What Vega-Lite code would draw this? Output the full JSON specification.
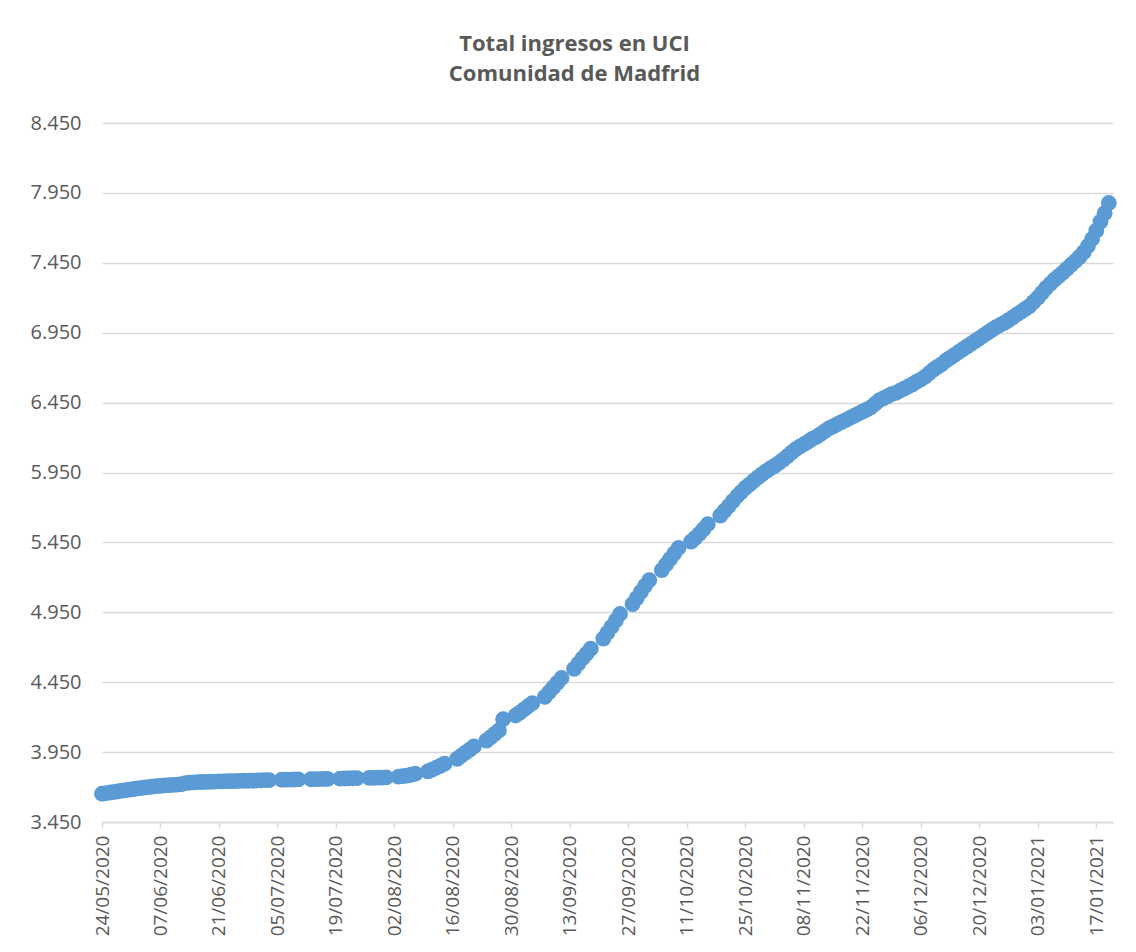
{
  "$schema": "https://vega.github.io/schema/vega-lite/v6.json",
  "autosize": "none",
  "width": 1011,
  "height": 699,
  "padding": {"left": 102, "top": 123, "right": 23, "bottom": 130},
  "background": "white",
  "title": {
    "text": ["Total ingresos en UCI", "Comunidad de Madfrid"],
    "font": "Open Sans",
    "fontSize": 22,
    "fontWeight": "bold",
    "color": "#595959",
    "lineHeight": 30,
    "offset": 27,
    "anchor": "middle",
    "dx": -33
  },
  "data": {
    "format": {"parse": {"fecha": "date:'%Y-%m-%d'"}},
    "values": [
      {"fecha": "2020-05-24", "uci": 3652},
      {"fecha": "2020-05-25", "uci": 3657},
      {"fecha": "2020-05-26", "uci": 3661},
      {"fecha": "2020-05-27", "uci": 3666},
      {"fecha": "2020-05-28", "uci": 3670},
      {"fecha": "2020-05-29", "uci": 3675},
      {"fecha": "2020-05-30", "uci": 3679},
      {"fecha": "2020-05-31", "uci": 3684},
      {"fecha": "2020-06-01", "uci": 3688},
      {"fecha": "2020-06-02", "uci": 3692},
      {"fecha": "2020-06-03", "uci": 3696},
      {"fecha": "2020-06-04", "uci": 3700},
      {"fecha": "2020-06-05", "uci": 3703},
      {"fecha": "2020-06-06", "uci": 3706},
      {"fecha": "2020-06-07", "uci": 3709},
      {"fecha": "2020-06-08", "uci": 3712},
      {"fecha": "2020-06-09", "uci": 3714},
      {"fecha": "2020-06-10", "uci": 3716},
      {"fecha": "2020-06-11", "uci": 3718},
      {"fecha": "2020-06-12", "uci": 3720},
      {"fecha": "2020-06-13", "uci": 3728},
      {"fecha": "2020-06-14", "uci": 3731},
      {"fecha": "2020-06-15", "uci": 3733},
      {"fecha": "2020-06-16", "uci": 3735},
      {"fecha": "2020-06-17", "uci": 3736},
      {"fecha": "2020-06-18", "uci": 3737},
      {"fecha": "2020-06-19", "uci": 3738},
      {"fecha": "2020-06-20", "uci": 3739},
      {"fecha": "2020-06-21", "uci": 3740},
      {"fecha": "2020-06-22", "uci": 3741},
      {"fecha": "2020-06-23", "uci": 3742},
      {"fecha": "2020-06-24", "uci": 3743},
      {"fecha": "2020-06-25", "uci": 3743},
      {"fecha": "2020-06-26", "uci": 3744},
      {"fecha": "2020-06-27", "uci": 3745},
      {"fecha": "2020-06-28", "uci": 3745},
      {"fecha": "2020-06-29", "uci": 3746},
      {"fecha": "2020-06-30", "uci": 3747},
      {"fecha": "2020-07-01", "uci": 3748},
      {"fecha": "2020-07-02", "uci": 3749},
      {"fecha": "2020-07-03", "uci": 3750},
      {"fecha": "2020-07-06", "uci": 3752},
      {"fecha": "2020-07-07", "uci": 3753},
      {"fecha": "2020-07-08", "uci": 3753},
      {"fecha": "2020-07-09", "uci": 3754},
      {"fecha": "2020-07-10", "uci": 3755},
      {"fecha": "2020-07-13", "uci": 3756},
      {"fecha": "2020-07-14", "uci": 3757},
      {"fecha": "2020-07-15", "uci": 3757},
      {"fecha": "2020-07-16", "uci": 3758},
      {"fecha": "2020-07-17", "uci": 3759},
      {"fecha": "2020-07-20", "uci": 3760},
      {"fecha": "2020-07-21", "uci": 3761},
      {"fecha": "2020-07-22", "uci": 3762},
      {"fecha": "2020-07-23", "uci": 3763},
      {"fecha": "2020-07-24", "uci": 3764},
      {"fecha": "2020-07-27", "uci": 3765},
      {"fecha": "2020-07-28", "uci": 3766},
      {"fecha": "2020-07-29", "uci": 3767},
      {"fecha": "2020-07-30", "uci": 3768},
      {"fecha": "2020-07-31", "uci": 3769},
      {"fecha": "2020-08-03", "uci": 3775},
      {"fecha": "2020-08-04", "uci": 3778},
      {"fecha": "2020-08-05", "uci": 3782},
      {"fecha": "2020-08-06", "uci": 3788},
      {"fecha": "2020-08-07", "uci": 3795},
      {"fecha": "2020-08-10", "uci": 3812},
      {"fecha": "2020-08-11", "uci": 3824},
      {"fecha": "2020-08-12", "uci": 3838},
      {"fecha": "2020-08-13", "uci": 3852},
      {"fecha": "2020-08-14", "uci": 3867},
      {"fecha": "2020-08-17", "uci": 3902},
      {"fecha": "2020-08-18", "uci": 3924},
      {"fecha": "2020-08-19", "uci": 3946},
      {"fecha": "2020-08-20", "uci": 3968},
      {"fecha": "2020-08-21", "uci": 3990},
      {"fecha": "2020-08-24", "uci": 4032},
      {"fecha": "2020-08-25", "uci": 4055},
      {"fecha": "2020-08-26", "uci": 4080},
      {"fecha": "2020-08-27", "uci": 4105},
      {"fecha": "2020-08-28", "uci": 4185},
      {"fecha": "2020-08-31", "uci": 4212},
      {"fecha": "2020-09-01", "uci": 4232},
      {"fecha": "2020-09-02", "uci": 4255},
      {"fecha": "2020-09-03", "uci": 4278},
      {"fecha": "2020-09-04", "uci": 4300},
      {"fecha": "2020-09-07", "uci": 4345},
      {"fecha": "2020-09-08", "uci": 4378},
      {"fecha": "2020-09-09", "uci": 4412},
      {"fecha": "2020-09-10", "uci": 4446},
      {"fecha": "2020-09-11", "uci": 4480},
      {"fecha": "2020-09-14", "uci": 4545},
      {"fecha": "2020-09-15", "uci": 4582},
      {"fecha": "2020-09-16", "uci": 4620},
      {"fecha": "2020-09-17", "uci": 4655},
      {"fecha": "2020-09-18", "uci": 4690},
      {"fecha": "2020-09-21", "uci": 4762},
      {"fecha": "2020-09-22", "uci": 4805},
      {"fecha": "2020-09-23", "uci": 4848},
      {"fecha": "2020-09-24", "uci": 4892},
      {"fecha": "2020-09-25", "uci": 4938},
      {"fecha": "2020-09-28", "uci": 5008},
      {"fecha": "2020-09-29", "uci": 5052},
      {"fecha": "2020-09-30", "uci": 5096},
      {"fecha": "2020-10-01", "uci": 5140},
      {"fecha": "2020-10-02", "uci": 5180},
      {"fecha": "2020-10-05", "uci": 5252},
      {"fecha": "2020-10-06", "uci": 5292},
      {"fecha": "2020-10-07", "uci": 5332},
      {"fecha": "2020-10-08", "uci": 5372},
      {"fecha": "2020-10-09", "uci": 5410},
      {"fecha": "2020-10-12", "uci": 5455},
      {"fecha": "2020-10-13", "uci": 5483},
      {"fecha": "2020-10-14", "uci": 5512},
      {"fecha": "2020-10-15", "uci": 5545},
      {"fecha": "2020-10-16", "uci": 5580},
      {"fecha": "2020-10-19", "uci": 5642},
      {"fecha": "2020-10-20", "uci": 5676},
      {"fecha": "2020-10-21", "uci": 5710},
      {"fecha": "2020-10-22", "uci": 5745},
      {"fecha": "2020-10-23", "uci": 5780},
      {"fecha": "2020-10-24", "uci": 5810},
      {"fecha": "2020-10-25", "uci": 5840},
      {"fecha": "2020-10-26", "uci": 5865},
      {"fecha": "2020-10-27", "uci": 5890},
      {"fecha": "2020-10-28", "uci": 5915},
      {"fecha": "2020-10-29", "uci": 5938},
      {"fecha": "2020-10-30", "uci": 5960},
      {"fecha": "2020-10-31", "uci": 5980},
      {"fecha": "2020-11-01", "uci": 5998},
      {"fecha": "2020-11-02", "uci": 6018},
      {"fecha": "2020-11-03", "uci": 6040},
      {"fecha": "2020-11-04", "uci": 6065},
      {"fecha": "2020-11-05", "uci": 6092},
      {"fecha": "2020-11-06", "uci": 6115},
      {"fecha": "2020-11-07", "uci": 6135},
      {"fecha": "2020-11-08", "uci": 6152},
      {"fecha": "2020-11-09", "uci": 6170},
      {"fecha": "2020-11-10", "uci": 6190},
      {"fecha": "2020-11-11", "uci": 6205},
      {"fecha": "2020-11-12", "uci": 6225},
      {"fecha": "2020-11-13", "uci": 6245},
      {"fecha": "2020-11-14", "uci": 6265},
      {"fecha": "2020-11-15", "uci": 6280},
      {"fecha": "2020-11-16", "uci": 6295},
      {"fecha": "2020-11-17", "uci": 6310},
      {"fecha": "2020-11-18", "uci": 6325},
      {"fecha": "2020-11-19", "uci": 6340},
      {"fecha": "2020-11-20", "uci": 6355},
      {"fecha": "2020-11-21", "uci": 6370},
      {"fecha": "2020-11-22", "uci": 6385},
      {"fecha": "2020-11-23", "uci": 6400},
      {"fecha": "2020-11-24", "uci": 6415},
      {"fecha": "2020-11-25", "uci": 6440},
      {"fecha": "2020-11-26", "uci": 6465},
      {"fecha": "2020-11-27", "uci": 6480},
      {"fecha": "2020-11-28", "uci": 6495},
      {"fecha": "2020-11-29", "uci": 6510},
      {"fecha": "2020-11-30", "uci": 6520},
      {"fecha": "2020-12-01", "uci": 6535},
      {"fecha": "2020-12-02", "uci": 6550},
      {"fecha": "2020-12-03", "uci": 6565},
      {"fecha": "2020-12-04", "uci": 6580},
      {"fecha": "2020-12-05", "uci": 6600},
      {"fecha": "2020-12-06", "uci": 6615},
      {"fecha": "2020-12-07", "uci": 6635},
      {"fecha": "2020-12-08", "uci": 6660},
      {"fecha": "2020-12-09", "uci": 6685},
      {"fecha": "2020-12-10", "uci": 6705},
      {"fecha": "2020-12-11", "uci": 6725},
      {"fecha": "2020-12-12", "uci": 6750},
      {"fecha": "2020-12-13", "uci": 6770},
      {"fecha": "2020-12-14", "uci": 6790},
      {"fecha": "2020-12-15", "uci": 6810},
      {"fecha": "2020-12-16", "uci": 6830},
      {"fecha": "2020-12-17", "uci": 6850},
      {"fecha": "2020-12-18", "uci": 6870},
      {"fecha": "2020-12-19", "uci": 6890},
      {"fecha": "2020-12-20", "uci": 6910},
      {"fecha": "2020-12-21", "uci": 6930},
      {"fecha": "2020-12-22", "uci": 6950},
      {"fecha": "2020-12-23", "uci": 6970},
      {"fecha": "2020-12-24", "uci": 6990},
      {"fecha": "2020-12-25", "uci": 7005},
      {"fecha": "2020-12-26", "uci": 7020},
      {"fecha": "2020-12-27", "uci": 7040},
      {"fecha": "2020-12-28", "uci": 7060},
      {"fecha": "2020-12-29", "uci": 7080},
      {"fecha": "2020-12-30", "uci": 7100},
      {"fecha": "2020-12-31", "uci": 7120},
      {"fecha": "2021-01-01", "uci": 7140},
      {"fecha": "2021-01-02", "uci": 7170},
      {"fecha": "2021-01-03", "uci": 7200},
      {"fecha": "2021-01-04", "uci": 7235},
      {"fecha": "2021-01-05", "uci": 7270},
      {"fecha": "2021-01-06", "uci": 7300},
      {"fecha": "2021-01-07", "uci": 7330},
      {"fecha": "2021-01-08", "uci": 7355},
      {"fecha": "2021-01-09", "uci": 7380},
      {"fecha": "2021-01-10", "uci": 7408},
      {"fecha": "2021-01-11", "uci": 7436},
      {"fecha": "2021-01-12", "uci": 7463},
      {"fecha": "2021-01-13", "uci": 7492},
      {"fecha": "2021-01-14", "uci": 7527},
      {"fecha": "2021-01-15", "uci": 7570},
      {"fecha": "2021-01-16", "uci": 7620},
      {"fecha": "2021-01-17", "uci": 7680},
      {"fecha": "2021-01-18", "uci": 7745},
      {"fecha": "2021-01-19", "uci": 7805},
      {"fecha": "2021-01-20", "uci": 7878}
    ]
  },
  "mark": {"type": "point", "shape": "circle", "filled": true, "size": 250, "opacity": 1, "color": "#5B9BD5"},
  "encoding": {
    "x": {
      "field": "fecha",
      "type": "temporal",
      "scale": {"domain": [{"year": 2020, "month": 5, "date": 24}, {"year": 2021, "month": 1, "date": 21}], "nice": false},
      "axis": {
        "title": null,
        "values": [
          {"year": 2020, "month": 5, "date": 24},
          {"year": 2020, "month": 6, "date": 7},
          {"year": 2020, "month": 6, "date": 21},
          {"year": 2020, "month": 7, "date": 5},
          {"year": 2020, "month": 7, "date": 19},
          {"year": 2020, "month": 8, "date": 2},
          {"year": 2020, "month": 8, "date": 16},
          {"year": 2020, "month": 8, "date": 30},
          {"year": 2020, "month": 9, "date": 13},
          {"year": 2020, "month": 9, "date": 27},
          {"year": 2020, "month": 10, "date": 11},
          {"year": 2020, "month": 10, "date": 25},
          {"year": 2020, "month": 11, "date": 8},
          {"year": 2020, "month": 11, "date": 22},
          {"year": 2020, "month": 12, "date": 6},
          {"year": 2020, "month": 12, "date": 20},
          {"year": 2021, "month": 1, "date": 3},
          {"year": 2021, "month": 1, "date": 17}
        ],
        "format": "%d/%m/%Y",
        "labelAngle": -90,
        "labelAlign": "right",
        "labelBaseline": "middle",
        "labelFont": "Open Sans",
        "labelFontSize": 19,
        "labelColor": "#595959",
        "labelPadding": 7,
        "labelOverlap": false,
        "labelFlush": false,
        "grid": false,
        "domainColor": "#D9D9D9",
        "domainWidth": 1.5,
        "tickColor": "#D9D9D9",
        "tickWidth": 1.5,
        "tickSize": 6
      }
    },
    "y": {
      "field": "uci",
      "type": "quantitative",
      "scale": {"domain": [3450, 8450], "nice": false, "zero": false},
      "axis": {
        "title": null,
        "values": [3450, 3950, 4450, 4950, 5450, 5950, 6450, 6950, 7450, 7950, 8450],
        "labelExpr": "replace(format(datum.value, ','), ',', '.')",
        "labelFont": "Open Sans",
        "labelFontSize": 20,
        "labelColor": "#595959",
        "labelPadding": 21,
        "ticks": false,
        "domain": false,
        "grid": true,
        "gridColor": "#D9D9D9",
        "gridWidth": 1.5
      }
    }
  },
  "config": {"view": {"stroke": null}}
}
